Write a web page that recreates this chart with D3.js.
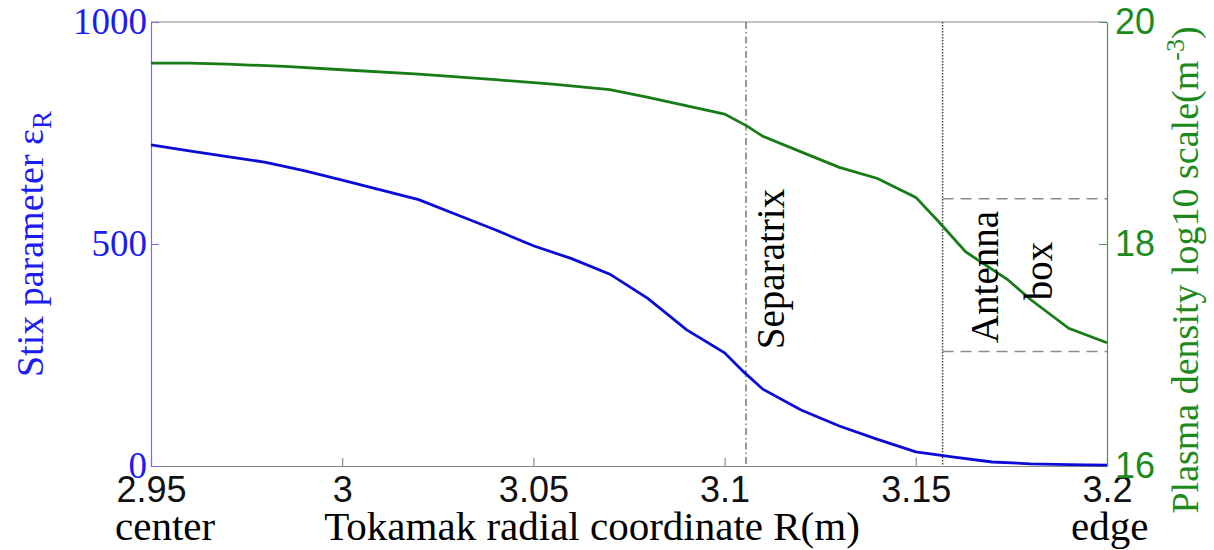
<!DOCTYPE html>
<html>
<head>
<meta charset="utf-8">
<script src="https://cdn.jsdelivr.net/npm/d3@7/dist/d3.min.js"></script>
<style>
  body { margin: 0; background: #fff; }
  .serif { font-family: "Liberation Serif", "Times New Roman", serif; }
</style>
</head>
<body>
<div class="chart"></div>
<script>
// Stix parameter and plasma density vs tokamak radial coordinate

var svgWidth = 1214;
var svgHeight = 550;

var margin = { top: 22, right: 107, bottom: 84, left: 151 };

var width = svgWidth - margin.left - margin.right;
var height = svgHeight - margin.top - margin.bottom;

// data
var stixR = [2.95, 2.96, 2.97, 2.98, 2.99, 3.00, 3.01, 3.02, 3.03, 3.04, 3.05, 3.06, 3.07,
  3.08, 3.09, 3.10, 3.105, 3.11, 3.12, 3.13, 3.14, 3.15, 3.16, 3.17, 3.18, 3.19, 3.20];
var stixValues = [723, 710, 697, 684, 665, 644, 622, 600, 566, 532, 496, 467, 432,
  377, 307, 255, 212, 173, 126, 90, 60, 32, 20, 9, 5, 3, 2];

var densityR = [2.95, 2.96, 2.97, 2.985, 3.0, 3.02, 3.04, 3.055, 3.07, 3.08, 3.1, 3.106,
  3.11, 3.12, 3.13, 3.14, 3.15, 3.156, 3.163, 3.174, 3.18, 3.19, 3.2];
var densityValues = [19.63, 19.63, 19.62, 19.60, 19.57, 19.53, 19.48, 19.44, 19.39, 19.32,
  19.17, 19.06, 18.97, 18.83, 18.69, 18.59, 18.42, 18.2, 17.93, 17.68, 17.5, 17.24, 17.11];

var xTicks = [2.95, 3, 3.05, 3.1, 3.15, 3.2];
var xTickLabels = ["2.95", "3", "3.05", "3.1", "3.15", "3.2"];
var stixTicks = [0, 500, 1000];
var stixTickLabels = ["0", "500", "1000"];
var densityTicks = [16, 18, 20];
var densityTickLabels = ["16", "18", "20"];

var separatrixR = 3.1056;
var antennaR = 3.157;
var antennaBoxStix = [602, 258]; // top and bottom of the box, left-axis units

var blue = "#0b0bd6";
var green = "#177c17";

var svg = d3
  .select(".chart")
  .append("svg")
  .attr("width", svgWidth)
  .attr("height", svgHeight);

var chart = svg.append("g")
  .attr("transform", "translate(" + margin.left + "," + margin.top + ")");

var xScale = d3.scaleLinear().domain([2.95, 3.2]).range([0, width]);
var yLeft = d3.scaleLinear().domain([0, 1000]).range([height, 0]);
var yRight = d3.scaleLinear().domain([16, 20]).range([height, 0]);

// top border
chart.append("line")
  .attr("x1", 0).attr("x2", width)
  .attr("y1", 0).attr("y2", 0)
  .attr("stroke", "#8a8a8a")
  .attr("stroke-width", 1.2);

// separatrix (dash-dot) and antenna (dotted) markers
chart.append("line")
  .attr("x1", xScale(separatrixR)).attr("x2", xScale(separatrixR))
  .attr("y1", 0).attr("y2", height)
  .attr("stroke", "#333")
  .attr("stroke-width", 1)
  .attr("stroke-dasharray", "7,3,1.5,3");

chart.append("line")
  .attr("x1", xScale(antennaR)).attr("x2", xScale(antennaR))
  .attr("y1", 0).attr("y2", height)
  .attr("stroke", "#444")
  .attr("stroke-width", 1.5)
  .attr("stroke-dasharray", "1.5,1.5");

antennaBoxStix.forEach(function(v) {
  chart.append("line")
    .attr("x1", xScale(antennaR)).attr("x2", width)
    .attr("y1", yLeft(v)).attr("y2", yLeft(v))
    .attr("stroke", "#8c8c8c")
    .attr("stroke-width", 1.5)
    .attr("stroke-dasharray", "11,7");
});

// axes
var bottomAxis = d3.axisBottom(xScale)
  .tickValues(xTicks)
  .tickFormat(function(d, i) { return xTickLabels[i]; })
  .tickSizeInner(-8)
  .tickSizeOuter(0)
  .tickPadding(10);

var leftAxis = d3.axisLeft(yLeft)
  .tickValues(stixTicks)
  .tickFormat(function(d, i) { return stixTickLabels[i]; })
  .tickSizeInner(-8)
  .tickSizeOuter(0)
  .tickPadding(4);

var rightAxis = d3.axisRight(yRight)
  .tickValues(densityTicks)
  .tickFormat(function(d, i) { return densityTickLabels[i]; })
  .tickSizeInner(-8)
  .tickSizeOuter(0)
  .tickPadding(8);

var gx = chart.append("g")
  .attr("transform", `translate(0, ${height})`)
  .call(bottomAxis);
gx.selectAll("path, line").attr("stroke", "#8a8a8a").attr("stroke-width", 1.2);
gx.selectAll("text")
  .attr("font-family", "'Liberation Sans', Arial, sans-serif")
  .attr("font-size", 36)
  .attr("fill", "#111");

var gl = chart.append("g").call(leftAxis);
gl.selectAll("path").attr("stroke", "#6f6ff0").attr("stroke-width", 1.2);
gl.selectAll("line").attr("stroke", "#6f6ff0");
gl.selectAll("text")
  .attr("font-family", "'Liberation Serif', 'Times New Roman', serif")
  .attr("font-size", 37)
  .attr("fill", "#1c1cf0");

var gr = chart.append("g")
  .attr("transform", `translate(${width}, 0)`)
  .call(rightAxis);
gr.selectAll("path").attr("stroke", "#4a9a4a").attr("stroke-width", 1.2);
gr.selectAll("line").attr("stroke", "#4a9a4a");
gr.selectAll("text")
  .attr("font-family", "'Liberation Sans', Arial, sans-serif")
  .attr("font-size", 36)
  .attr("fill", "#1d8a1d");

// curves
var stixData = stixR.map(function(r, i) { return { r: r, v: stixValues[i] }; });
var densityData = densityR.map(function(r, i) { return { r: r, v: densityValues[i] }; });

chart.append("path")
  .datum(densityData)
  .attr("fill", "none")
  .attr("stroke", green)
  .attr("stroke-width", 2.8)
  .attr("d", d3.line()
    .x(function(d) { return xScale(d.r); })
    .y(function(d) { return yRight(d.v); }));

chart.append("path")
  .datum(stixData)
  .attr("fill", "none")
  .attr("stroke", blue)
  .attr("stroke-width", 2.8)
  .attr("d", d3.line()
    .x(function(d) { return xScale(d.r); })
    .y(function(d) { return yLeft(d.v); }));

// annotations
chart.append("text")
  .attr("class", "serif")
  .attr("transform", "translate(" + (xScale(separatrixR) + 38) + "," + 247 + ") rotate(-90)")
  .attr("text-anchor", "middle")
  .attr("font-size", 39)
  .text("Separatrix");

chart.append("text")
  .attr("class", "serif")
  .attr("transform", "translate(" + (998 - margin.left) + "," + 255 + ") rotate(-90)")
  .attr("text-anchor", "middle")
  .attr("font-size", 39)
  .text("Antenna");

chart.append("text")
  .attr("class", "serif")
  .attr("transform", "translate(" + (1052 - margin.left) + "," + 249 + ") rotate(-90)")
  .attr("text-anchor", "middle")
  .attr("font-size", 39)
  .text("box");

// axis titles
var leftTitle = svg.append("text")
  .attr("class", "serif")
  .attr("transform", "translate(43," + (margin.top + height / 2) + ") rotate(-90)")
  .attr("text-anchor", "middle")
  .attr("font-size", 38)
  .attr("fill", "#1c1cf0");
leftTitle.append("tspan").text("Stix parameter \u03B5");
leftTitle.append("tspan").attr("font-size", 27).attr("dy", 8).text("R");

var rightTitle = svg.append("text")
  .attr("class", "serif")
  .attr("transform", "translate(1198,270) rotate(-90)")
  .attr("text-anchor", "middle")
  .attr("font-size", 38)
  .attr("fill", "#1d8a1d");
rightTitle.append("tspan").text("Plasma density log10 scale(m");
rightTitle.append("tspan").attr("font-size", 26).attr("dy", -14).text("-3");
rightTitle.append("tspan").attr("dy", 14).text(")");

svg.append("text")
  .attr("class", "serif")
  .attr("x", 115).attr("y", 540)
  .attr("font-size", 41)
  .text("center");

svg.append("text")
  .attr("class", "serif")
  .attr("x", 592).attr("y", 540)
  .attr("text-anchor", "middle")
  .attr("font-size", 41)
  .text("Tokamak radial coordinate R(m)");

svg.append("text")
  .attr("class", "serif")
  .attr("x", 1071).attr("y", 540)
  .attr("font-size", 41)
  .text("edge");
</script>
</body>
</html>
